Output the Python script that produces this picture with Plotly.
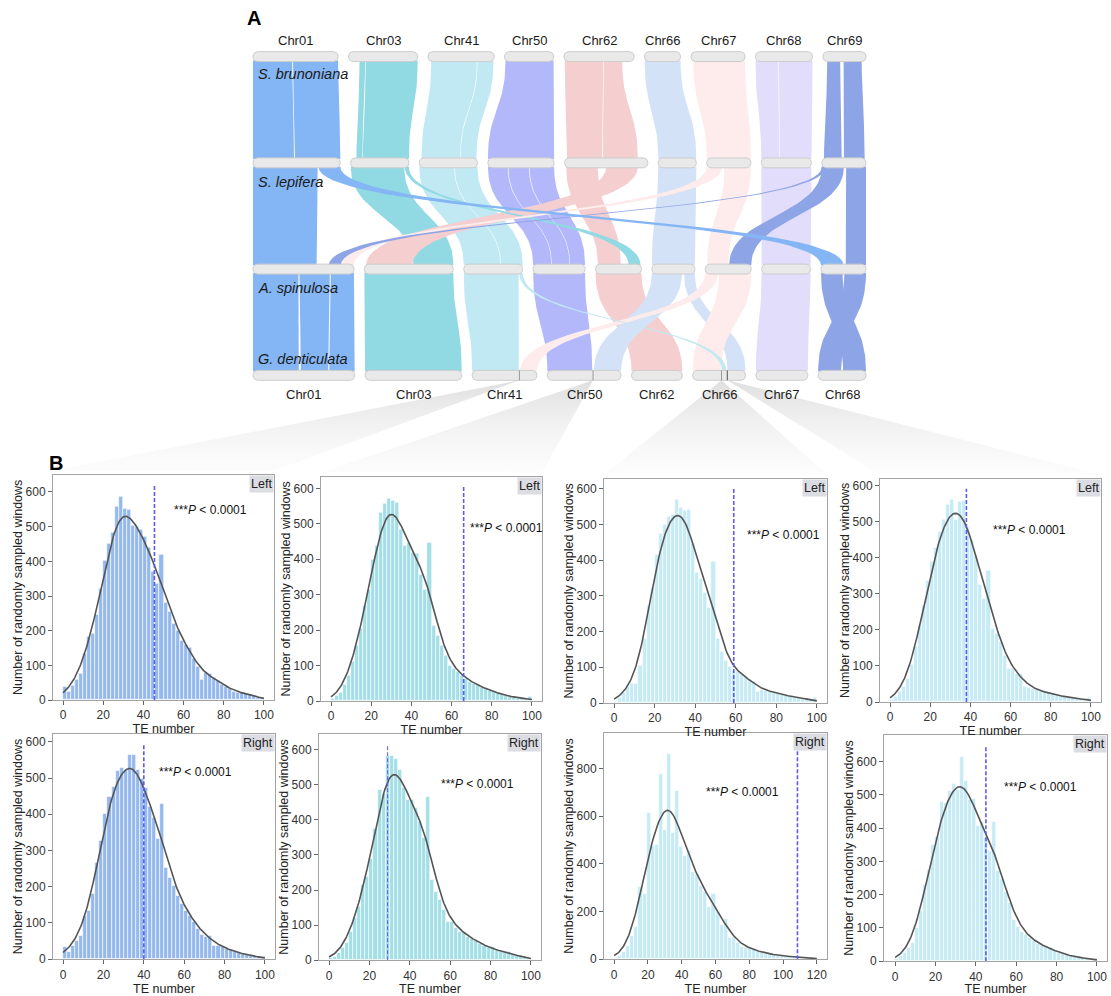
import numpy as np
import plotly.graph_objects as go

FONT = "Liberation Sans, Arial, sans-serif"
W, H = 1111, 996

# ------------------------------------------------------------------
# Panel A data: chromosome lengths (Mb) and syntenic blocks
# ------------------------------------------------------------------
species = ["S. brunoniana", "S. lepifera", "A. spinulosa", "G. denticulata"]
chroms_main = ["Chr01", "Chr03", "Chr41", "Chr50", "Chr62", "Chr66", "Chr67", "Chr68", "Chr69"]
chroms_den = ["Chr01", "Chr03", "Chr41", "Chr50", "Chr62", "Chr66", "Chr67", "Chr68"]

len_brunoniana = [85, 69, 66, 49, 70, 36, 54, 57, 43]
len_lepifera = [87, 58, 58, 66, 83, 38, 44, 50, 44]
len_spinulosa = [101, 89, 59, 52, 46, 43, 46, 49, 45]
len_denticulata = [102, 97, 65, 74, 51, 53, 52, 48]

chrom_colors = {
    "Chr01": "#84b5f4", "Chr03": "#91d9e3", "Chr41": "#c0e9f4",
    "Chr50": "#b3b8fb", "Chr62": "#f5cfd0", "Chr66": "#d4e2f8",
    "Chr67": "#fdeceb", "Chr68": "#e2ddfb", "Chr69": "#8da4e6",
}

# (source chrom, start, end, target chrom, start, end) as fractions of chromosome length
links_bru_lep = [
    ("Chr01", 0.00, 0.46, "Chr01", 0.00, 0.47),
    ("Chr01", 0.47, 1.00, "Chr01", 0.48, 1.00),
    ("Chr03", 0.16, 0.24, "Chr03", 0.10, 0.20),
    ("Chr03", 0.25, 1.00, "Chr03", 0.21, 1.00),
    ("Chr41", 0.05, 0.74, "Chr41", 0.04, 0.70),
    ("Chr41", 0.75, 0.99, "Chr41", 0.71, 0.98),
    ("Chr50", 0.02, 1.00, "Chr50", 0.00, 1.00),
    ("Chr62", 0.01, 0.56, "Chr62", 0.03, 0.45),
    ("Chr62", 0.57, 0.83, "Chr62", 0.46, 0.88),
    ("Chr66", 0.00, 1.00, "Chr66", 0.00, 1.00),
    ("Chr67", 0.04, 1.00, "Chr67", 0.00, 1.00),
    ("Chr68", 0.00, 0.40, "Chr68", 0.00, 0.36),
    ("Chr68", 0.41, 1.00, "Chr68", 0.37, 1.00),
    ("Chr69", 0.10, 0.40, "Chr69", 0.05, 0.45),
    ("Chr69", 0.48, 0.90, "Chr69", 0.50, 0.97),
]
links_lep_spi = [
    ("Chr01", 0.00, 0.74, "Chr01", 0.00, 0.63),
    ("Chr03", 0.00, 0.92, "Chr03", 0.55, 1.00),
    ("Chr41", 0.00, 0.60, "Chr41", 0.00, 0.62),
    ("Chr41", 0.61, 1.00, "Chr41", 0.63, 1.00),
    ("Chr50", 0.00, 0.30, "Chr50", 0.00, 0.35),
    ("Chr50", 0.31, 0.62, "Chr50", 0.36, 0.70),
    ("Chr50", 0.63, 1.00, "Chr50", 0.71, 1.00),
    ("Chr62", 0.02, 0.40, "Chr62", 0.05, 0.55),
    ("Chr66", 0.00, 1.00, "Chr66", 0.00, 1.00),
    ("Chr67", 0.40, 1.00, "Chr67", 0.04, 0.50),
    ("Chr68", 0.00, 1.00, "Chr68", 0.00, 1.00),
    ("Chr69", 0.55, 1.00, "Chr69", 0.55, 1.00),
    ("Chr62", 0.50, 0.88, "Chr03", 0.02, 0.54),
    ("Chr03", 0.93, 1.00, "Chr62", 0.72, 0.98),
    ("Chr67", 0.00, 0.35, "Chr01", 0.88, 1.00),
    ("Chr69", 0.00, 0.50, "Chr67", 0.52, 1.00),
    ("Chr69", 0.00, 0.09, "Chr01", 0.75, 0.87),
    ("Chr01", 0.75, 1.00, "Chr69", 0.00, 0.50),
]
links_spi_den = [
    ("Chr01", 0.00, 0.45, "Chr01", 0.00, 0.45),
    ("Chr01", 0.46, 0.76, "Chr01", 0.47, 0.74),
    ("Chr01", 0.77, 1.00, "Chr01", 0.75, 1.00),
    ("Chr03", 0.00, 1.00, "Chr03", 0.00, 1.00),
    ("Chr41", 0.00, 0.93, "Chr41", 0.00, 0.72),
    ("Chr50", 0.00, 1.00, "Chr50", 0.00, 0.61),
    ("Chr62", 0.00, 1.00, "Chr62", 0.00, 1.00),
    ("Chr68", 0.00, 1.00, "Chr67", 0.00, 1.00),
    ("Chr69", 0.00, 0.48, "Chr68", 0.52, 1.00),
    ("Chr69", 0.52, 1.00, "Chr68", 0.00, 0.48),
    ("Chr66", 0.00, 0.70, "Chr50", 0.63, 1.00),
    ("Chr66", 0.75, 1.00, "Chr66", 0.66, 1.00),
    ("Chr67", 0.30, 1.00, "Chr66", 0.00, 0.54),
    ("Chr67", 0.00, 0.28, "Chr41", 0.74, 1.00),
    ("Chr41", 0.94, 1.00, "Chr66", 0.56, 0.64),
]

# breakpoints on G. denticulata chromosomes (fraction of length)
breakpoints_den = [("Chr41", 0.73), ("Chr50", 0.62), ("Chr66", 0.545), ("Chr66", 0.655)]

# ------------------------------------------------------------------
# Panel B data: TE counts in randomly sampled windows
# ------------------------------------------------------------------
te_bp1_left = [38, 23, 42, 60, 76, 134, 184, 191, 246, 322, 401, 450, 482, 557, 587, 552, 550, 503,
               500, 490, 470, 440, 370, 335, 420, 280, 255, 220, 200, 170, 160, 150, 120, 95, 60,
               80, 75, 65, 55, 45, 38, 32, 25, 22, 20, 18, 15, 12, 8, 6]
te_bp2_left = [8, 15, 25, 45, 73, 110, 157, 203, 269, 315, 400, 437, 532, 558, 572, 565, 560, 483,
               439, 446, 418, 416, 357, 315, 448, 213, 185, 157, 129, 101, 91, 82, 71, 63, 56, 50,
               45, 39, 34, 29, 26, 22, 19, 15, 12, 10, 8, 7, 6, 12]
te_bp3_left = [5, 14, 30, 46, 55, 55, 106, 180, 272, 323, 415, 475, 498, 523, 526, 570, 547, 538,
               542, 446, 366, 348, 309, 268, 397, 180, 143, 120, 102, 90, 88, 80, 74, 65, 60, 32,
               37, 35, 32, 30, 27, 24, 21, 18, 16, 14, 12, 11, 10, 14]
te_bp4_left = [6, 16, 29, 43, 66, 103, 153, 212, 267, 336, 391, 428, 474, 506, 547, 562, 506, 556,
               560, 483, 451, 405, 327, 288, 366, 203, 190, 167, 130, 93, 93, 80, 80, 43, 40, 37,
               34, 31, 27, 25, 22, 19, 16, 15, 13, 11, 9, 8, 7, 11]
te_bp1_right = [34, 20, 38, 52, 64, 120, 134, 180, 267, 326, 402, 449, 477, 520, 529, 522, 565, 565,
                522, 497, 472, 420, 390, 331, 428, 253, 226, 203, 175, 152, 134, 120, 102, 84, 68,
                61, 64, 38, 36, 33, 29, 26, 20, 17, 15, 12, 9, 7, 6, 7]
te_bp2_right = [7, 11, 21, 35, 49, 82, 120, 153, 214, 237, 289, 374, 485, 473, 583, 583, 574, 542,
                492, 456, 456, 435, 393, 350, 465, 228, 195, 171, 143, 110, 110, 93, 82, 77, 68, 61,
                54, 46, 40, 35, 37, 28, 24, 20, 25, 16, 13, 10, 8, 8]
te_bp3_right = [7, 15, 32, 56, 100, 136, 303, 273, 616, 477, 480, 780, 543, 863, 530, 707, 470, 435,
                456, 366, 359, 310, 282, 220, 275, 199, 143, 171, 88, 95, 67, 53, 46, 49, 39, 32,
                28, 24, 21, 18, 15, 14, 12, 11, 10, 8, 7, 6, 4, 3]
te_bp4_right = [8, 15, 25, 40, 55, 101, 151, 228, 276, 351, 375, 478, 476, 511, 533, 516, 615, 541,
                484, 488, 407, 420, 372, 332, 419, 273, 248, 208, 174, 124, 104, 89, 79, 69, 60, 52,
                45, 42, 40, 32, 25, 22, 18, 15, 13, 11, 9, 8, 7, 7]

te_bin_width = [2.0, 2.0, 2.0, 2.0, 2.0, 2.0, 2.4, 2.0]
te_observed = [45.5, 66, 59, 38, 40, 29, 108.5, 45]
observed_line_top = [620, 605, 600, 592, 594, 614, 908, 647]
flank_labels = ["Left", "Left", "Left", "Left", "Right", "Right", "Right", "Right"]
y_tick_steps = [100, 100, 100, 100, 100, 100, 200, 100]

panel_counts = [te_bp1_left, te_bp2_left, te_bp3_left, te_bp4_left,
                te_bp1_right, te_bp2_right, te_bp3_right, te_bp4_right]

# ------------------------------------------------------------------
# Layout geometry (pixels)
# ------------------------------------------------------------------
ROW_Y = [57, 164, 271, 378]
ROW_X0, ROW_X1 = 253, 866
GAP = 10.4
BAR_H = 10

panel_box = [  # left, right, top, bottom
    (53, 274, 478, 705), (321, 542, 480, 706), (604, 827, 482, 708), (880, 1101, 482, 707),
    (53, 275, 739, 966), (319, 541, 739, 967), (604, 827, 738, 966), (884, 1107, 740, 968),
]
x_ranges = [[-5, 105]] * 6 + [[-6, 126], [-5.5, 105]]
y_tops = [650, 633, 628, 620, 622, 645, 950, 680]
bar_colors = ["#95b8ed", "#a4dee6", "#c6ebf4", "#c6ebf4", "#95b8ed", "#a4dee6", "#c6ebf4", "#c6ebf4"]
pval_pos = [(0.54, 0.885), (0.665, 0.81), (0.632, 0.79), (0.50, 0.81),
            (0.47, 0.87), (0.54, 0.82), (0.45, 0.78), (0.53, 0.81)]

fig = go.Figure()
OV = dict(xaxis="x9", yaxis="y9")


def chrom_positions(names, lengths):
    scale = (ROW_X1 - ROW_X0 - GAP * (len(lengths) - 1)) / sum(lengths)
    pos, x = {}, ROW_X0
    for n, L in zip(names, lengths):
        pos[n] = (x, x + L * scale)
        x += L * scale + GAP
    return pos


rows = [
    chrom_positions(chroms_main, len_brunoniana),
    chrom_positions(chroms_main, len_lepifera),
    chrom_positions(chroms_main, len_spinulosa),
    chrom_positions(chroms_den, len_denticulata),
]


def frac_x(pos, chrom, f):
    a, b = pos[chrom]
    return a + (b - a) * f


def bezier(xa, ya, xb, yb, n=40):
    t = np.linspace(0, 1, n)
    ym = (ya + yb) / 2
    x = (1 - t) ** 3 * xa + 3 * (1 - t) ** 2 * t * xa + 3 * (1 - t) * t ** 2 * xb + t ** 3 * xb
    y = (1 - t) ** 3 * ya + 3 * (1 - t) ** 2 * t * ym + 3 * (1 - t) * t ** 2 * ym + t ** 3 * yb
    return x, y


def add_ribbons(links, pos_a, pos_b, ya, yb):
    for sc, s0, s1, tc, t0, t1 in links:
        xl, yl = bezier(frac_x(pos_a, sc, s0), ya, frac_x(pos_b, tc, t0), yb)
        xr, yr = bezier(frac_x(pos_a, sc, s1), ya, frac_x(pos_b, tc, t1), yb)
        xs = np.concatenate([xl, xr[::-1]])
        ys = np.concatenate([yl, yr[::-1]])
        fig.add_trace(go.Scatter(x=xs, y=ys, fill="toself", mode="lines", line=dict(width=0),
                                 fillcolor=chrom_colors[sc], hoverinfo="skip", **OV))


def rounded_bar(x0, x1, yc, h, r):
    r = min(r, (x1 - x0) / 2, h / 2)
    pts_x, pts_y = [], []
    corners = [(x1 - r, yc - h / 2 + r, -90, 0), (x1 - r, yc + h / 2 - r, 0, 90),
               (x0 + r, yc + h / 2 - r, 90, 180), (x0 + r, yc - h / 2 + r, 180, 270)]
    for cx, cy, a0, a1 in corners:
        for a in np.radians(np.linspace(a0, a1, 8)):
            pts_x.append(cx + r * np.cos(a))
            pts_y.append(cy + r * np.sin(a))
    pts_x.append(pts_x[0])
    pts_y.append(pts_y[0])
    return pts_x, pts_y


# fans linking breakpoints to the histogram columns
for k, (chrom, f) in enumerate(breakpoints_den):
    ax_ = frac_x(rows[3], chrom, f)
    ay_ = ROW_Y[3] + BAR_H / 2
    l, r, t, b = panel_box[k]
    by = t - 4
    fig.add_trace(go.Scatter(
        x=[ax_, l, r, ax_], y=[ay_, by, by, ay_], fill="toself", mode="lines",
        line=dict(width=0), hoverinfo="skip",
        fillgradient=dict(type="vertical",
                          colorscale=[[0, "rgba(245,245,245,0.25)"], [1, "rgba(223,223,223,1)"]]),
        **OV))

# ribbons
link_sets = [links_bru_lep, links_lep_spi, links_spi_den]
for i, links in enumerate(link_sets):
    add_ribbons(links, rows[i], rows[i + 1], ROW_Y[i] + BAR_H / 2 - 1, ROW_Y[i + 1] - BAR_H / 2 + 1)

# chromosome bars
for i, pos in enumerate(rows):
    for name, (x0, x1) in pos.items():
        bx, by_ = rounded_bar(x0, x1, ROW_Y[i], BAR_H, 4.5)
        fig.add_trace(go.Scatter(x=bx, y=by_, fill="toself", mode="lines",
                                 line=dict(width=1, color="#cdcdcd"), fillcolor="#e9e9e9",
                                 hoverinfo="skip", **OV))

# breakpoint marks
for k, (chrom, f) in enumerate(breakpoints_den):
    xm = frac_x(rows[3], chrom, f)
    fig.add_trace(go.Scatter(x=[xm, xm], y=[ROW_Y[3] - BAR_H / 2, ROW_Y[3] + BAR_H / 2], mode="lines",
                             line=dict(width=1, color="#555555" if k == 3 else "#9a9a9a"),
                             hoverinfo="skip", **OV))

annotations = []
# chromosome labels
for name, (x0, x1) in rows[0].items():
    annotations.append(dict(x=(x0 + x1) / 2, y=41, xref="x9", yref="y9", text=name, showarrow=False,
                            font=dict(size=13, color="#1a1a1a")))
for name, (x0, x1) in rows[3].items():
    annotations.append(dict(x=(x0 + x1) / 2, y=397, xref="x9", yref="y9", text=name, showarrow=False,
                            font=dict(size=13, color="#1a1a1a")))
species_y = [75, 183, 290, 362]
for sp, yy in zip(species, species_y):
    annotations.append(dict(x=256, y=yy, xref="x9", yref="y9", text=f"<i>{sp}</i>", showarrow=False,
                            xanchor="left", font=dict(size=14.5, color="#1a1a1a")))
annotations.append(dict(x=254, y=18, xref="x9", yref="y9", text="<b>A</b>", showarrow=False,
                        font=dict(size=20, color="#000")))
annotations.append(dict(x=56, y=466, xref="x9", yref="y9", text="<b>B</b>", showarrow=False,
                        font=dict(size=20, color="#000")))

# ------------------------------------------------------------------
# Panel B: histograms with kernel density curve (scaled to counts)
# ------------------------------------------------------------------
layout_axes = {}
for k in range(8):
    n = k + 1
    xa, ya_ = ("x" if n == 1 else f"x{n}"), ("y" if n == 1 else f"y{n}")
    counts = np.array(panel_counts[k], dtype=float)
    bw = te_bin_width[k]
    centers = bw * (np.arange(len(counts)) + 0.5)
    fig.add_trace(go.Bar(x=centers, y=counts, width=bw, marker=dict(color=bar_colors[k],
                         line=dict(color="white", width=0.6)), xaxis=xa, yaxis=ya_, hoverinfo="skip"))
    # Gaussian KDE of the binned counts, expressed in counts per bin
    h = 2.3 * bw
    xs = np.linspace(0, bw * len(counts), 240)
    kern = np.exp(-0.5 * ((xs[:, None] - centers[None, :]) / h) ** 2) / (np.sqrt(2 * np.pi) * h)
    curve = (kern * counts).sum(1) * bw
    fig.add_trace(go.Scatter(x=xs, y=curve, mode="lines", line=dict(color="#555555", width=1.6),
                             xaxis=xa, yaxis=ya_, hoverinfo="skip"))
    fig.add_trace(go.Scatter(x=[te_observed[k]] * 2, y=[0, observed_line_top[k]], mode="lines",
                             line=dict(color="#5c5cf2", width=1.0 if k == 5 else 1.6, dash="4px,2px"),
                             xaxis=xa, yaxis=ya_, hoverinfo="skip"))

    l, r, t, b = panel_box[k]
    axis_common = dict(showline=True, mirror=True, linecolor="#a3a3a3", linewidth=1, ticks="outside",
                       ticklen=4, tickcolor="#666", tickfont=dict(size=12, color="#333"),
                       showgrid=False, zeroline=False)
    layout_axes["xaxis" if n == 1 else f"xaxis{n}"] = dict(
        domain=[l / W, r / W], range=x_ranges[k], anchor=ya_, tick0=0, dtick=20,
        title=dict(text="TE number", font=dict(size=12.5, color="#222"), standoff=2), **axis_common)
    layout_axes["yaxis" if n == 1 else f"yaxis{n}"] = dict(
        domain=[1 - b / H, 1 - t / H], range=[0, y_tops[k]], anchor=xa, tick0=0, dtick=y_tick_steps[k],
        title=dict(text="Number of randomly sampled windows", font=dict(size=12.5, color="#222"),
                   standoff=0), **axis_common)

    px_, py_ = pval_pos[k]
    annotations.append(dict(x=px_, y=py_, xref=f"{xa} domain", yref=f"{ya_} domain",
                            text="***<i>P</i> &lt; 0.0001", showarrow=False, xanchor="left",
                            font=dict(size=12, color="#111")))
    annotations.append(dict(x=1, y=1, xref=f"{xa} domain", yref=f"{ya_} domain", text=flank_labels[k],
                            showarrow=False, xanchor="right", yanchor="top", bgcolor="#dcdce3",
                            borderpad=1, font=dict(size=12.5, color="#222")))

layout_axes["xaxis9"] = dict(domain=[0, 1], range=[0, W], visible=False, anchor="y9", fixedrange=True)
layout_axes["yaxis9"] = dict(domain=[0, 1], range=[H, 0], visible=False, anchor="x9", fixedrange=True)

fig.update_layout(
    width=W, height=H, margin=dict(l=0, r=0, t=0, b=0),
    paper_bgcolor="white", plot_bgcolor="rgba(0,0,0,0)",
    font=dict(family=FONT), showlegend=False, bargap=0,
    annotations=annotations, **layout_axes,
)

fig.write_html("out.html")
